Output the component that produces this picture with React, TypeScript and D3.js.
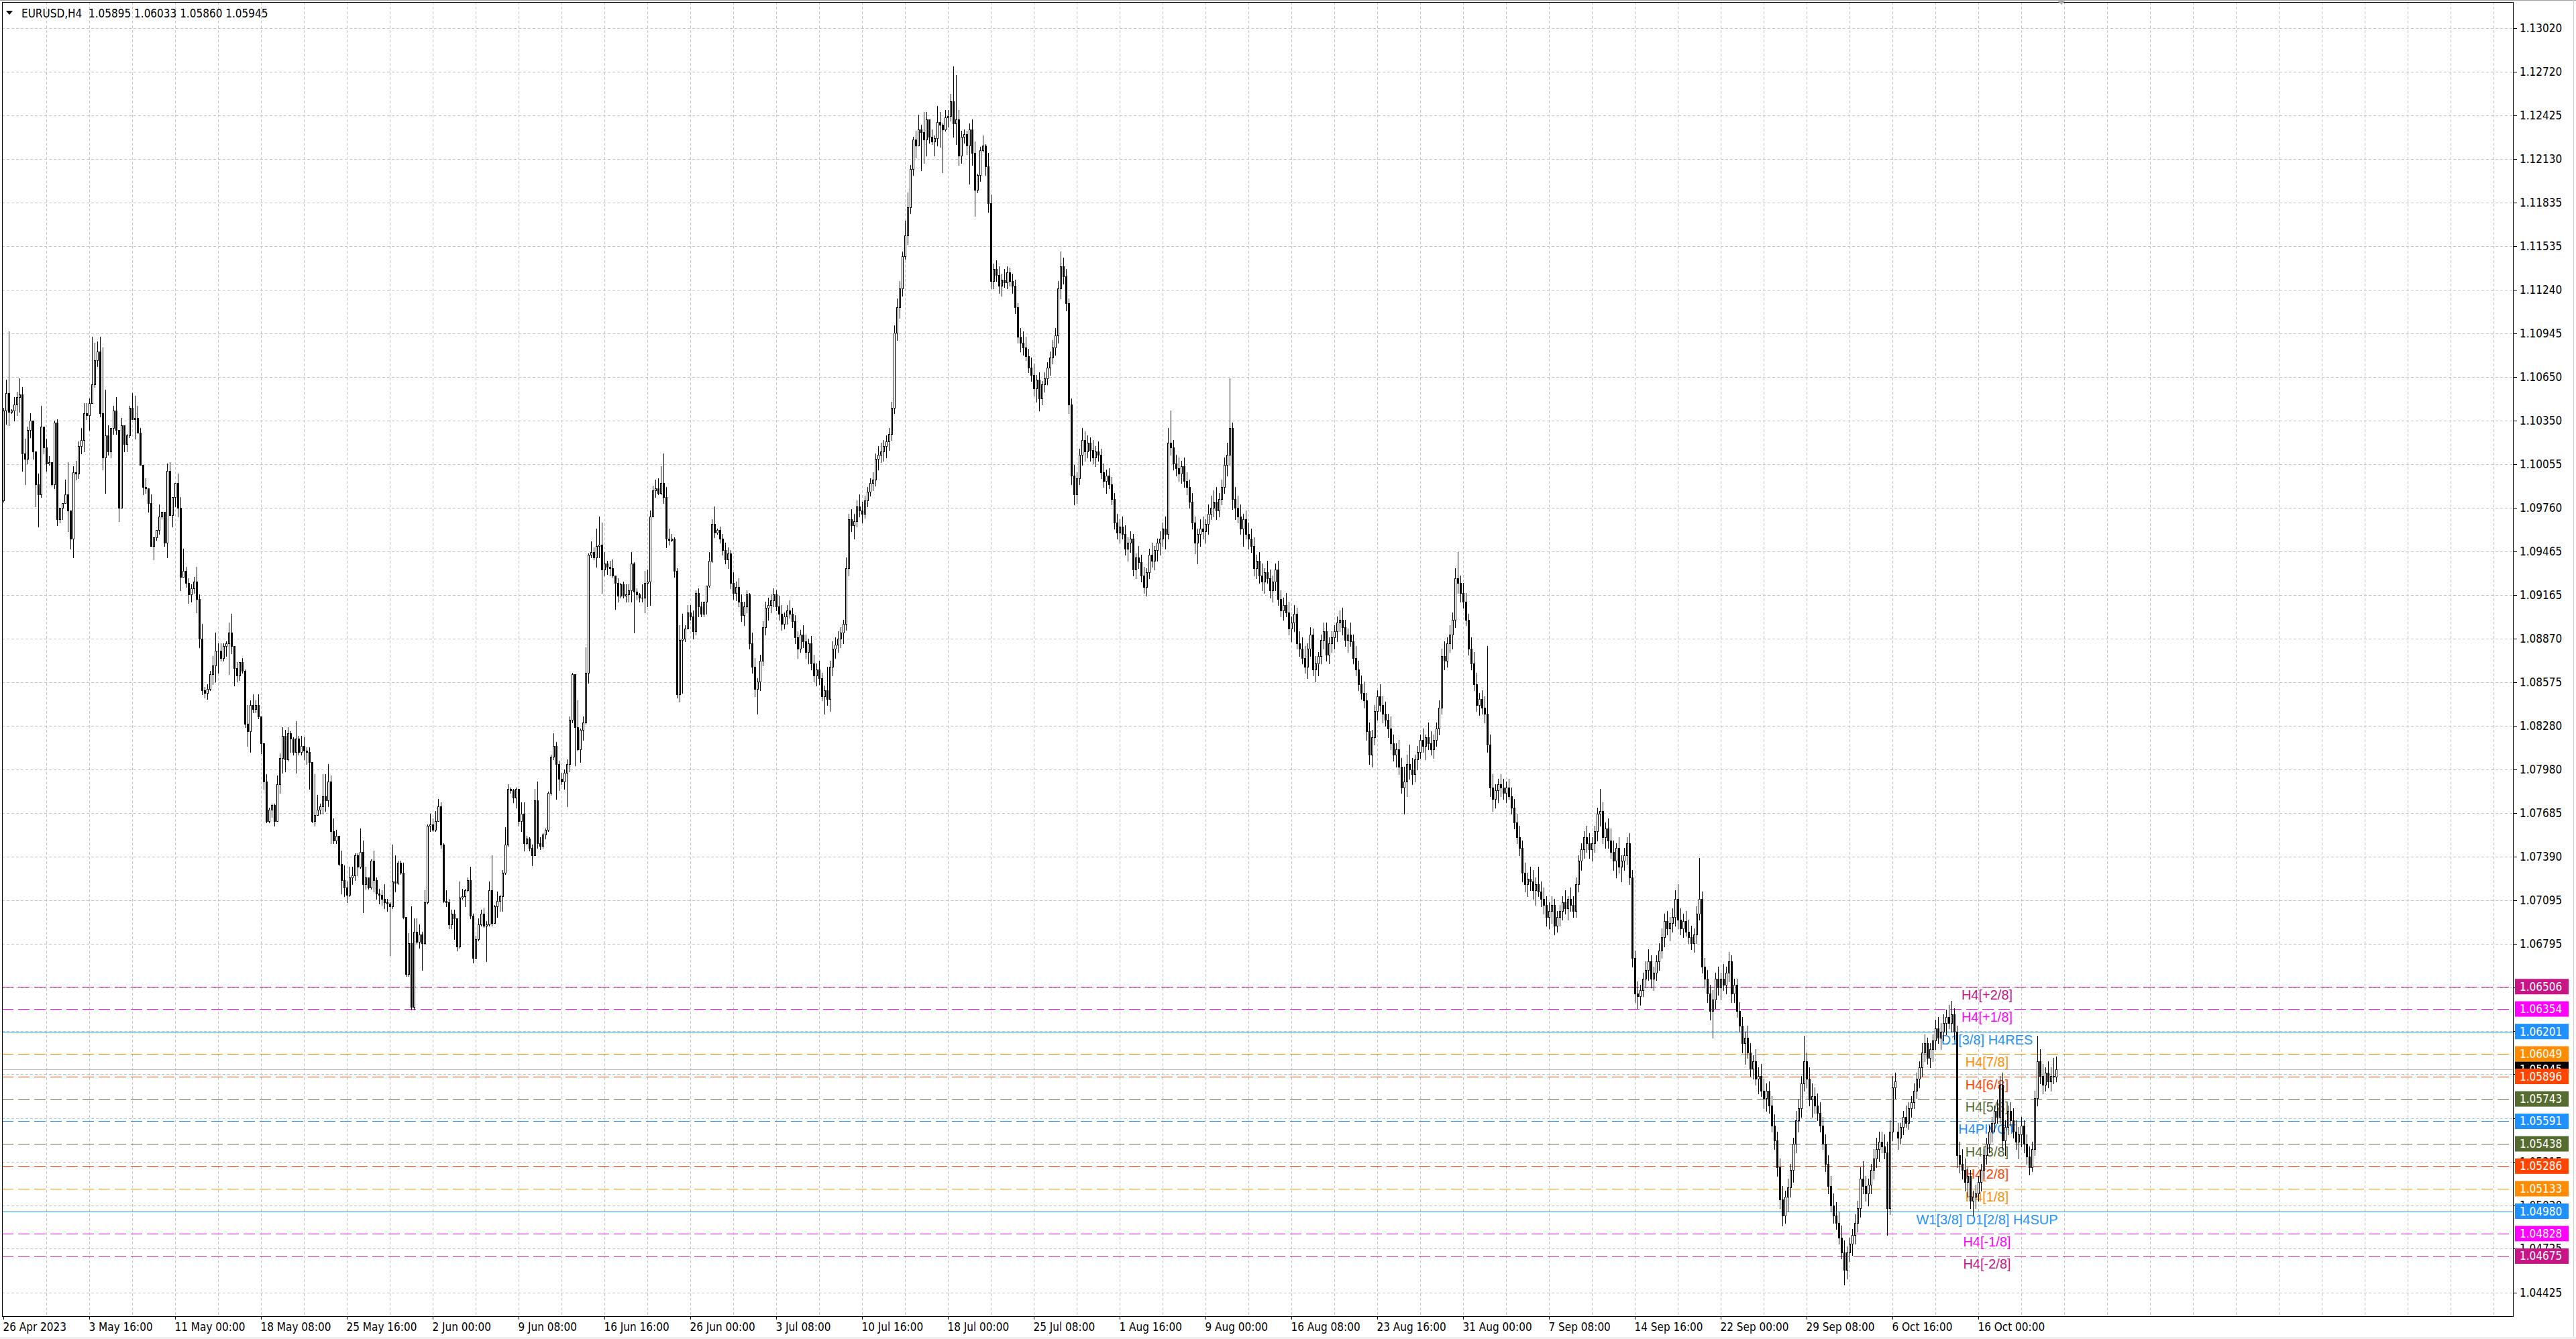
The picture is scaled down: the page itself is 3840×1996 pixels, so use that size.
import React from 'react';
import * as d3 from 'd3';

const SYMBOL = 'EURUSD,H4';

// H4 bars, 26 Apr 2023 08:00 .. 20 Oct 2023 20:00
// [open, high, low, close] in pips above 1.0000 (1042 -> 1.1042)
const BARS: number[][] = [
  [981,1044,980,1042],[1042,1063,1033,1054],[1054,1096,1032,1041],[1041,1043,1040,1042],[1042,1051,1035,1046],[1046,1055,1039,1051],
  [1051,1064,1041,1053],[1053,1058,1001,1013],[1013,1023,992,1009],[1009,1031,1006,1029],[1029,1040,1024,1035],[1035,1035,1009,1014],
  [1014,1014,977,992],[992,999,963,985],[985,1045,983,1031],[1031,1031,1013,1017],[1017,1023,1001,1006],[1006,1011,1005,1007],
  [1007,1007,991,992],[992,1035,989,1034],[1034,1036,964,968],[968,976,966,976],[976,979,968,979],[979,995,979,985],
  [985,1007,960,974],[974,974,948,955],[955,1004,942,1000],[1000,1008,995,999],[999,1021,996,1018],[1018,1030,1013,1022],
  [1022,1047,1014,1040],[1040,1047,1036,1039],[1039,1050,1029,1047],[1047,1092,1047,1060],[1060,1088,1058,1076],[1076,1089,1072,1082],
  [1082,1092,1038,1040],[1040,1085,1002,1010],[1010,1056,986,1025],[1025,1032,1012,1014],[1014,1030,1010,1030],[1030,1045,1026,1042],
  [1042,1051,1026,1029],[1029,1029,967,976],[976,1037,976,1032],[1032,1032,1014,1019],[1019,1026,1014,1025],[1025,1045,1024,1044],
  [1044,1054,1036,1036],[1036,1052,1023,1037],[1037,1045,1027,1027],[1027,1030,1005,1005],[1005,1005,985,990],[990,996,986,989],
  [989,989,973,979],[979,985,950,950],[950,956,941,956],[956,961,954,961],[961,978,958,970],[970,973,969,973],
  [973,973,950,952],[952,1006,942,1001],[1001,1007,971,971],[971,983,963,983],[983,993,977,993],[993,999,970,976],
  [976,983,920,929],[929,948,929,933],[933,936,922,925],
  [925,928,911,917],[917,924,912,921],[921,929,918,926],[926,936,905,914],[914,917,881,887],[887,897,849,852],
  [852,854,847,850],[850,856,846,853],[853,865,852,863],[863,875,856,869],[869,891,858,879],[879,884,864,879],
  [879,884,872,874],[874,884,872,882],[882,885,875,884],[884,898,863,891],[891,904,877,882],[882,882,855,867],
  [867,871,858,862],[862,871,859,871],[871,874,864,865],[865,866,827,829],[829,842,814,824],[824,845,810,842],
  [842,849,837,839],[839,845,837,842],[842,849,833,834],[834,834,809,816],[816,816,785,790],[790,795,762,763],
  [763,772,762,771],[771,775,766,774],[774,775,760,763],[763,794,763,788],[788,809,782,806],[806,827,796,821],
  [821,825,797,805],[805,827,804,823],[823,824,810,819],[819,820,808,810],[810,831,796,819],[819,821,808,810],
  [810,821,808,814],[814,820,805,811],[811,813,802,810],[810,813,785,803],[803,803,762,763],[763,795,760,767],
  [767,781,767,771],[771,775,768,773],[773,795,768,780],[780,795,770,777],[777,802,773,790],[790,794,748,756],
  [756,765,748,750],[750,757,748,753],[753,753,733,734],[734,743,714,723],[723,733,712,718],[718,722,708,713],
  [713,732,712,725],[725,732,720,726],[726,741,723,740],[740,741,726,732],[732,758,731,742],[742,750,701,720],
  [720,732,717,725],[725,725,717,718],[718,737,717,736],[736,743,715,723],[723,725,710,714],[714,717,707,713],
  [713,716,706,710],[710,720,704,708],[708,710,702,707],[707,708,672,705],[705,747,704,722],[722,740,715,721],
  [721,736,720,735],[735,736,727,728],[728,735,697,698],[698,698,658,659],[659,687,658,680],[680,705,635,637],
  [637,697,635,688],[688,697,680,681],[681,693,677,686],[686,688,662,680],[680,716,679,708],[708,761,707,760],
  [760,768,756,761],[761,765,756,757],[757,770,756,763],[763,778,763,773],[773,776,745,747],[747,748,708,709],
  [709,716,705,708],[708,710,690,693],[693,703,690,700],[700,703,683,697],[697,697,675,678],[678,722,677,711],
  [711,717,710,712],[712,717,705,716],[716,725,715,723],[723,732,697,699],[699,700,667,670],[670,685,670,683],
  [683,697,682,693],[693,703,692,700],[700,704,691,692],[692,695,668,693],[693,722,692,716],[716,740,692,694],
  [694,706,694,705],[705,715,698,709],[709,713,702,712],[712,730,702,728],[728,759,727,747],[747,788,746,785],
  [785,786,782,784],[784,785,776,779],[779,786,772,785],[785,785,760,763],[763,776,756,768],[768,776,743,748],
  [748,753,747,751],[751,752,743,745],[745,747,733,740],[740,785,740,777],[777,790,745,748],[748,752,744,746],
  [746,755,745,754],[754,758,751,757],[757,783,756,782],[782,808,781,807],[807,823,805,814],[814,817,778,802],
  [802,804,784,792],[792,796,788,790],[790,798,785,796],[796,805,773,802],[802,834,797,832],[832,864,830,863],
  [863,863,801,827],[827,845,811,812],[812,826,803,825],[825,834,818,830],[830,881,829,864],[864,945,857,944],
  [944,953,942,946],[946,949,941,942],[942,962,936,950],[950,970,942,951],[951,966,918,934],[934,946,930,938],
  [938,940,931,936],[936,940,930,935],[935,941,929,930],[930,930,907,925],[925,928,912,916],[916,925,915,924],
  [924,926,915,916],[916,924,912,917],[917,924,912,920],[920,946,912,938],[938,939,891,919],[919,921,914,917],
  [917,918,912,915],[915,924,912,915],[915,933,905,925],[925,934,909,926],[926,974,910,970],[970,991,970,988],
  [988,995,983,989],[989,996,985,986],[986,1004,985,993],[993,1013,979,983],[983,990,949,955],[955,962,951,954],
  [954,958,953,955],[955,956,929,933],[933,935,847,849],[849,896,844,886],[886,904,850,887],[887,896,885,894],
  [894,910,894,905],[905,910,900,902],[902,906,887,892],[892,920,890,918],[918,921,902,909],[909,912,902,904],
  [904,912,902,912],[912,923,904,923],[923,946,922,940],[940,968,939,965],[965,977,956,959],[959,962,958,961],[961,963,952,955],
  [955,958,944,947],[947,952,938,941],[941,949,935,945],[945,947,921,925],[925,932,914,918],[918,926,913,922],
  [922,928,909,912],[912,917,899,903],[903,912,896,909],[909,920,905,917],[917,918,880,884],[884,891,864,868],
  [868,874,848,853],[853,860,836,858],[858,876,852,872],[872,899,869,895],[895,912,890,908],[908,915,900,910],
  [910,917,905,913],[913,921,909,917],[917,920,906,909],[909,916,900,904],[904,910,893,897],[897,905,894,902],
  [902,910,897,906],[906,913,901,904],[904,908,895,899],[899,903,884,888],[888,892,874,880],[880,893,878,890],
  [890,896,881,885],[885,890,874,878],[878,887,870,884],[884,889,866,870],[870,876,858,862],[862,870,855,866],
  [866,872,856,860],[860,864,845,848],[848,855,836,852],[852,868,842,846],[846,872,838,868],[868,885,862,880],
  [880,888,874,883],[883,892,878,887],[887,895,881,891],[891,900,884,897],[897,942,893,935],[935,972,930,968],
  [968,975,960,964],[964,972,955,967],[967,981,963,977],[977,985,970,974],[974,980,966,972],[972,984,969,981],
  [981,990,977,987],[987,996,984,993],[993,1000,988,995],[995,1013,991,1009],[1009,1018,1002,1012],[1012,1020,1007,1014],
  [1014,1022,1008,1018],[1018,1025,1010,1021],[1021,1030,1015,1026],[1026,1048,1022,1044],[1044,1100,1040,1095],[1095,1118,1090,1112],
  [1112,1130,1105,1125],[1125,1150,1120,1147],[1147,1171,1145,1161],[1161,1190,1155,1180],[1180,1209,1176,1206],[1206,1228,1202,1226],
  [1226,1232,1214,1222],[1222,1243,1222,1233],[1233,1236,1205,1231],[1231,1245,1210,1226],[1226,1245,1215,1240],[1240,1240,1224,1228],
  [1228,1233,1223,1225],[1225,1229,1215,1227],[1227,1249,1222,1238],[1238,1245,1221,1236],[1236,1237,1204,1233],[1233,1246,1232,1241],
  [1241,1246,1235,1242],[1242,1257,1239,1252],[1252,1276,1228,1237],[1237,1270,1223,1240],[1240,1246,1209,1215],[1215,1232,1210,1228],
  [1228,1233,1224,1230],[1230,1232,1216,1222],[1222,1237,1196,1233],[1233,1240,1209,1217],[1217,1225,1174,1192],[1192,1203,1190,1202],
  [1202,1221,1198,1219],[1219,1229,1218,1222],[1222,1223,1202,1208],[1208,1217,1177,1183],[1183,1189,1125,1130],[1130,1142,1125,1138],
  [1138,1144,1130,1134],[1134,1140,1122,1127],[1127,1135,1120,1131],[1131,1138,1126,1129],[1129,1140,1125,1136],[1136,1139,1127,1130],
  [1130,1135,1122,1127],[1127,1131,1108,1112],[1112,1115,1088,1092],[1092,1098,1082,1088],[1088,1096,1080,1085],[1085,1092,1076,1079],
  [1079,1084,1068,1071],[1071,1078,1062,1066],[1066,1074,1052,1057],[1057,1066,1048,1063],[1063,1068,1042,1050],[1050,1062,1046,1060],
  [1060,1068,1055,1064],[1064,1075,1060,1071],[1071,1082,1066,1078],[1078,1090,1074,1085],[1085,1098,1080,1093],[1093,1130,1088,1125],
  [1125,1150,1118,1140],[1140,1146,1128,1133],[1133,1138,1110,1115],[1115,1118,1040,1046],[1046,1050,992,998],[998,1005,978,985],
  [985,1000,979,996],[996,1016,992,1012],[1012,1030,1005,1022],[1022,1028,1008,1014],[1014,1025,1010,1020],[1020,1024,1008,1015],
  [1015,1022,1006,1010],[1010,1018,1004,1014],[1014,1021,1008,1012],[1012,1016,996,1000],[1000,1006,990,994],[994,1002,986,998],
  [998,1003,989,992],[992,997,978,982],[982,986,962,966],[966,972,955,959],[959,968,952,963],[963,970,955,958],
  [958,964,944,948],[948,956,940,952],[952,960,946,955],[955,958,930,934],[934,945,928,942],[942,950,935,939],
  [939,944,926,930],[930,936,918,922],[922,935,916,932],[932,948,928,944],[944,952,936,940],[940,950,934,947],
  [947,955,940,952],[952,960,944,955],[955,966,950,962],[962,970,948,958],[958,1030,955,1020],[1020,1042,1012,1017],
  [1017,1022,1002,1006],[1006,1012,998,1003],[1003,1010,994,999],[999,1008,993,1004],[1004,1010,990,994],[994,1000,985,990],
  [990,995,976,980],[980,986,962,966],[966,970,945,952],[952,962,938,958],[958,968,950,962],[962,970,955,960],
  [960,968,952,965],[965,978,958,972],[972,984,968,976],[976,988,970,980],[980,990,968,974],[974,986,970,982],
  [982,995,978,990],[990,1010,986,1005],[1005,1020,998,1012],[1012,1064,1005,1030],[1030,1034,975,982],[982,990,968,976],
  [976,984,966,970],[970,978,958,962],[962,972,950,968],[968,974,955,958],[958,966,948,955],[955,962,946,950],
  [950,956,930,935],[935,944,928,940],[940,946,925,930],[930,938,920,926],[926,935,918,932],[932,940,925,928],
  [928,934,915,920],[920,930,912,926],[926,938,920,934],[934,940,910,914],[914,920,902,906],[906,915,900,910],
  [910,918,902,905],[905,912,890,894],[894,902,885,898],[898,910,892,904],[904,908,880,884],[884,892,875,880],
  [880,888,870,874],[874,882,864,868],[868,884,860,880],[880,895,875,890],[890,894,862,866],[866,875,858,870],
  [870,878,862,875],[875,890,870,886],[886,898,880,892],[892,898,872,876],[876,888,870,884],[884,892,878,888],
  [888,896,880,892],[892,902,885,898],[898,906,892,900],[900,908,890,895],[895,900,882,886],[886,894,878,890],
  [890,898,882,885],[885,890,870,874],[874,882,862,866],[866,872,852,856],[856,862,846,850],[850,858,840,845],
  [845,850,818,824],[824,830,802,808],[808,825,800,820],[820,842,815,838],[838,852,832,848],[848,856,838,842],
  [842,848,830,836],[836,844,828,832],[832,836,820,826],[826,834,812,816],[816,822,804,808],[808,816,800,812],
  [812,818,795,800],[800,806,782,786],[786,800,768,790],[790,808,780,802],[802,815,792,798],[798,806,788,795],
  [795,808,790,805],[805,814,798,810],[810,822,806,818],[818,826,810,814],[814,822,805,820],[820,830,812,816],
  [816,824,808,812],[812,822,806,818],[818,830,814,826],[826,845,822,840],[840,880,836,875],[875,885,866,872],
  [872,888,868,884],[884,896,878,890],[890,905,880,900],[900,935,895,928],[928,946,918,925],[925,930,912,918],
  [918,925,908,912],[912,918,896,900],[900,904,876,880],[880,888,866,870],[870,878,852,856],[856,864,838,842],
  [842,850,835,846],[846,852,836,840],[840,848,830,836],[836,882,810,815],[815,822,780,786],[786,795,770,778],
  [778,788,772,784],[784,792,776,788],[788,795,780,786],[786,792,778,782],[782,790,776,786],[786,792,778,780],
  [780,786,768,772],[772,778,758,762],[762,768,748,752],[752,760,740,745],[745,750,722,728],[728,735,715,720],
  [720,728,712,724],[724,732,716,722],[722,730,710,716],[716,725,706,720],[720,732,712,715],[715,722,705,710],
  [710,718,700,706],[706,712,692,698],[698,708,690,702],[702,712,694,706],[706,710,686,692],[692,702,688,698],
  [698,706,692,702],[702,712,696,708],[708,716,700,704],[704,712,696,710],[710,718,702,706],[706,712,698,702],
  [702,725,698,720],[720,740,715,736],[736,748,730,744],[744,756,738,752],[752,760,742,748],[748,755,738,744],
  [744,752,736,748],[748,760,742,756],[756,772,750,768],[768,785,760,770],[770,776,748,752],[752,762,745,758],
  [758,765,745,750],[750,758,738,742],[742,750,730,736],[736,748,725,745],[745,752,728,732],[732,740,722,736],
  [736,745,730,740],[740,752,734,748],[748,755,720,725],[725,730,664,670],[670,675,640,646],[646,654,636,644],
  [644,652,638,648],[648,660,644,656],[656,668,650,662],[662,676,655,668],[668,672,650,656],[656,664,648,660],
  [660,672,655,668],[668,680,662,675],[675,690,670,684],[684,700,678,695],[695,702,686,690],[690,698,682,694],
  [694,704,688,698],[698,716,692,710],[710,720,690,696],[696,704,686,690],[690,700,684,695],[695,702,685,688],
  [688,696,680,684],[684,692,676,680],[680,690,674,686],[686,705,680,700],[700,738,696,710],[710,715,660,664],
  [664,670,650,656],[656,662,640,646],[646,652,628,634],[634,648,616,642],[642,660,636,656],[656,664,645,650],
  [650,660,642,656],[656,666,648,652],[652,664,646,660],[660,674,654,668],[668,672,640,646],[646,656,640,652],
  [652,656,630,634],[634,640,620,624],[624,630,606,612],[612,620,598,616],[616,624,602,606],[606,612,590,595],
  [595,604,588,600],[600,608,584,588],[588,596,578,590],[590,598,576,580],[580,588,568,575],[575,585,566,580],
  [580,586,565,570],[570,576,552,556],[556,564,540,546],[546,552,522,528],[528,534,500,506],[506,515,488,495],
  [495,512,490,508],[508,520,498,514],[514,530,508,526],[526,548,518,544],[544,566,538,560],[560,574,552,568],
  [568,590,562,585],[585,617,580,600],[600,606,582,588],[588,596,570,574],[574,585,562,576],[576,582,565,570],
  [570,578,560,565],[565,572,552,556],[556,562,540,544],[544,550,525,530],[530,536,510,515],[515,522,498,502],
  [502,510,490,495],[495,504,486,490],[490,498,476,480],[480,488,466,470],[470,478,448,458],[458,474,452,470],
  [470,480,464,476],[476,486,468,482],[482,496,476,490],[490,505,484,500],[500,528,494,520],[520,532,510,515],
  [515,522,505,510],[510,520,502,516],[516,530,510,526],[526,540,520,534],[534,548,528,540],[540,552,532,545],
  [545,552,538,542],[542,550,534,538],[538,545,482,500],[500,560,496,552],[552,590,546,582],[582,592,575,586],
  [552,558,540,548],[548,558,544,555],[555,566,550,562],[562,570,555,558],[558,572,554,568],[568,576,562,572],
  [572,585,568,580],[580,592,575,588],[588,600,582,596],[596,612,590,606],[606,618,600,612],[612,616,598,602],
  [602,612,596,608],[608,618,600,614],[614,628,608,622],[622,630,612,616],[616,626,608,620],[620,632,614,626],
  [626,635,618,630],[630,638,622,626],[626,641,620,632],[632,636,615,620],[620,624,528,536],[536,545,524,530],
  [530,540,520,526],[526,534,512,518],[518,528,508,522],[522,526,500,505],[505,512,495,508],[508,516,500,510],
  [510,522,505,518],[518,530,512,526],[526,540,520,536],[536,548,530,544],[544,556,538,552],[552,562,545,558],
  [558,570,552,566],[566,574,558,562],[562,590,558,584],[584,592,540,546],[546,560,536,555],[555,570,550,566],
  [566,572,556,560],[560,568,548,552],[552,560,540,545],[545,555,534,550],[550,562,542,556],[556,560,538,544],
  [544,550,530,535],[535,542,523,528],[528,545,525,540],[540,580,536,575],[575,617,570,600],[600,608,585,590],
  [590,598,578,584],[584,596,580,592],[592,600,582,586],[586,596,580,590],[590,602,585,589.5],[589.5,603.3,586,594.5],
];

// one time label every 32 bars
const TIME_LABELS = [
  '26 Apr 2023', '3 May 16:00', '11 May 00:00', '18 May 08:00', '25 May 16:00', '2 Jun 00:00',
  '9 Jun 08:00', '16 Jun 16:00', '26 Jun 00:00', '3 Jul 08:00', '10 Jul 16:00', '18 Jul 00:00',
  '25 Jul 08:00', '1 Aug 16:00', '9 Aug 00:00', '16 Aug 08:00', '23 Aug 16:00', '31 Aug 00:00',
  '7 Sep 08:00', '14 Sep 16:00', '22 Sep 00:00', '29 Sep 08:00', '6 Oct 16:00', '16 Oct 00:00',
];

const PRICE_TICKS = [
  1.13020, 1.12720, 1.12425, 1.12130, 1.11835, 1.11535, 1.11240, 1.10945, 1.10650, 1.10350,
  1.10055, 1.09760, 1.09465, 1.09165, 1.08870, 1.08575, 1.08280, 1.07980, 1.07685, 1.07390,
  1.07095, 1.06795, 1.06500, 1.06205, 1.05910, 1.05610, 1.05315, 1.05020, 1.04725, 1.04425,
];

// Murrey math levels
const LEVEL_VALUES = [1.06506, 1.06354, 1.06201, 1.06049, 1.05896, 1.05743, 1.05591, 1.05438, 1.05286, 1.05133, 1.04980, 1.04828, 1.04675];
const LEVEL_NAMES = [
  'H4[+2/8]', 'H4[+1/8]', 'D1[3/8] H4RES', 'H4[7/8]', 'H4[6/8]', 'H4[5/8]', 'H4PIVOT',
  'H4[3/8]', 'H4[2/8]', 'H4[1/8]', 'W1[3/8] D1[2/8] H4SUP', 'H4[-1/8]', 'H4[-2/8]',
];

// styles
const LEVEL_COLORS = ['#C71585', '#FF00FF', '#1E90FF', '#FF8C00', '#FF4500', '#556B2F', '#1E90FF', '#556B2F', '#FF4500', '#FF8C00', '#1E90FF', '#FF00FF', '#C71585'];
const LEVEL_SOLID = [false, false, true, false, false, false, false, false, false, false, true, false, false];

const W = 3840;
const H = 1996;
const PLOT = { left: 3, top: 3, right: 3746, bottom: 1962 };
const BAR_STEP = 4;
const FIRST_X = 5;
const LABEL_EVERY = 32;
const GRID_EVERY = 16;
const LEVEL_TEXT_BAR = 739.25;
const AXIS_FONT = "'DejaVu Sans Condensed', 'DejaVu Sans', sans-serif";
const TEXT_FONT = "'Liberation Sans', Arial, sans-serif";

const toPrice = (v: number) => 1 + v / 10000;

export default function App() {
  const n = BARS.length;
  const x = d3.scaleLinear().domain([0, n - 1]).range([FIRST_X, FIRST_X + BAR_STEP * (n - 1)]);
  const y = d3.scaleLinear()
    .domain([PRICE_TICKS[0], PRICE_TICKS[PRICE_TICKS.length - 1]])
    .range([41.6, 1927.3]);

  const last = BARS[n - 1];
  const bid = toPrice(last[3]);
  const py = (p: number) => Math.round(y(p)) + 0.5;

  // axis labels sitting right under a coloured price box are not visible anyway
  const boxed = [...LEVEL_VALUES, bid].map(v => y(v));
  const visibleTick = (t: number) => !boxed.some(b => Math.abs(b - y(t)) < 4);

  const gridX = d3.range(GRID_EVERY, 1000, GRID_EVERY)
    .map(i => Math.round(x(i)) + 0.5)
    .filter(v => v < PLOT.right);

  const candles = BARS.map((b, i) => {
    const [o, h0, l0, c] = b;
    const h = Math.max(h0, o, c);
    const l = Math.min(l0, o, c);
    const cx = Math.round(x(i));
    const yh = Math.round(y(toPrice(h)));
    const yl = Math.round(y(toPrice(l)));
    const top = Math.round(y(toPrice(Math.max(o, c))));
    const bot = Math.round(y(toPrice(Math.min(o, c))));
    const bh = Math.max(1, bot - top + 1);
    const bull = c >= o;
    return (
      <g key={i}>
        <rect x={cx} y={yh} width={1} height={Math.max(1, yl - yh + 1)} fill="#000" />
        <rect x={cx - 1} y={top} width={3} height={bh} fill="#000" />
        {bull && bh >= 3 && <rect x={cx} y={top + 1} width={1} height={bh - 2} fill="#fff" />}
      </g>
    );
  });

  const title = `${SYMBOL}  ${last.map(v => toPrice(v).toFixed(5)).join(' ')}`;

  return (
    <svg width={W} height={H} style={{ position: 'absolute', left: 0, top: 0, background: '#fff' }}>
      <rect x={0} y={0} width={W} height={H} fill="#fff" />

      {/* grid */}
      <g shapeRendering="crispEdges" stroke="#c4c4c4" strokeWidth={1} strokeDasharray="4,3">
        {PRICE_TICKS.map((t, i) => (
          <line key={'h' + i} x1={PLOT.left} x2={PLOT.right} y1={py(t)} y2={py(t)} />
        ))}
        {gridX.map((gx, i) => (
          <line key={'v' + i} x1={gx} x2={gx} y1={PLOT.top} y2={PLOT.bottom} />
        ))}
      </g>

      {/* murrey levels */}
      <g shapeRendering="crispEdges">
        {LEVEL_VALUES.map((v, i) => (
          <line key={i} x1={PLOT.left} x2={PLOT.right} y1={py(v)} y2={py(v)}
            stroke={LEVEL_COLORS[i]} strokeWidth={1}
            strokeDasharray={LEVEL_SOLID[i] ? undefined : '17,7'} />
        ))}
        <line x1={PLOT.left} x2={PLOT.right} y1={py(bid)} y2={py(bid)} stroke="#c0c0c0" strokeWidth={1} />
      </g>
      <g fontFamily={TEXT_FONT} fontSize={20} textAnchor="middle">
        {LEVEL_VALUES.map((v, i) => (
          <text key={i} x={x(LEVEL_TEXT_BAR)} y={py(v) + 18} fill={LEVEL_COLORS[i]}>{LEVEL_NAMES[i]}</text>
        ))}
      </g>

      {/* candles */}
      <g shapeRendering="crispEdges">{candles}</g>

      {/* frame */}
      <rect x={PLOT.left + 0.5} y={PLOT.top + 0.5} width={PLOT.right - PLOT.left} height={PLOT.bottom - PLOT.top}
        fill="none" stroke="#000" strokeWidth={1} shapeRendering="crispEdges" />
      <line x1={0} x2={W} y1={0.5} y2={0.5} stroke="#a0a0a0" />
      <line x1={W - 3.5} x2={W - 3.5} y1={0} y2={H} stroke="#d0d0d0" />
      <rect x={0} y={H - 3} width={W} height={3} fill="#eeeeee" />
      <polygon
        points={`${x(n) - 3},0 ${x(n) + 11},0 ${x(n) + 4},7`}
        fill="#a8a8a8" />

      {/* title */}
      <polygon points="9,16 19,16 14,22" fill="#000" />
      <text x={32} y={26} fontFamily={AXIS_FONT} fontSize={17} fill="#000" style={{ whiteSpace: 'pre' }}>{title}</text>

      {/* price axis */}
      <g fontFamily={AXIS_FONT} fontSize={17}>
        {PRICE_TICKS.map((t, i) => (
          <g key={i}>
            <line x1={PLOT.right} x2={PLOT.right + 6} y1={py(t)} y2={py(t)} stroke="#000" shapeRendering="crispEdges" />
            {visibleTick(t) && <text x={3756} y={y(t) + 6} fill="#000">{t.toFixed(5)}</text>}
          </g>
        ))}
        <rect x={3749} y={y(bid) - 11.5} width={80} height={23} fill="#000" />
        <text x={3756} y={y(bid) + 6} fill="#fff">{bid.toFixed(5)}</text>
        {LEVEL_VALUES.map((v, i) => (
          <g key={'l' + i}>
            <rect x={3749} y={y(v) - 11.5} width={80} height={23} fill={LEVEL_COLORS[i]} />
            <text x={3756} y={y(v) + 6} fill="#fff">{v.toFixed(5)}</text>
          </g>
        ))}
      </g>

      {/* time axis */}
      <g fontFamily={AXIS_FONT} fontSize={17}>
        {TIME_LABELS.map((s, k) => {
          const tx = Math.round(x(k * LABEL_EVERY)) + 0.5;
          return (
            <g key={k}>
              <line x1={tx} x2={tx} y1={PLOT.bottom} y2={PLOT.bottom + 5} stroke="#000" shapeRendering="crispEdges" />
              <text x={tx - 1} y={1984} fill="#000">{s}</text>
            </g>
          );
        })}
      </g>
    </svg>
  );
}
